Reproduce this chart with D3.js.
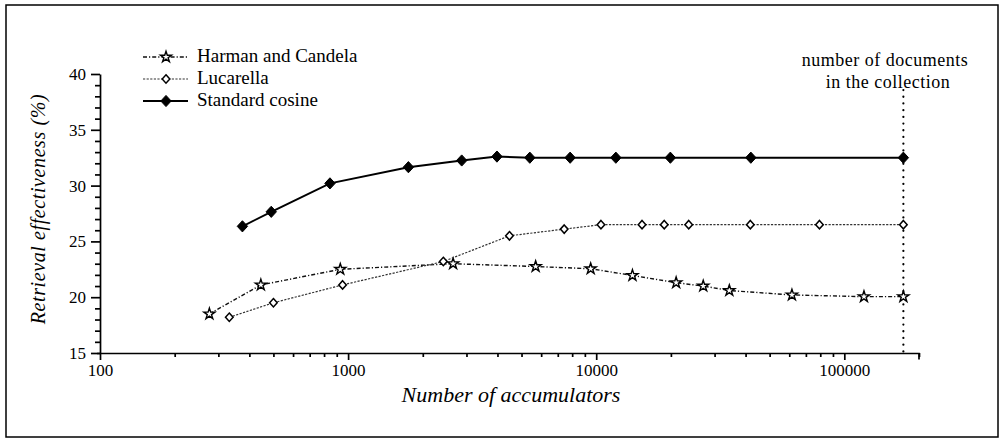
<!DOCTYPE html>
<html><head><meta charset="utf-8">
<script src="https://cdn.jsdelivr.net/npm/d3@7"></script>
<style>
html,body{margin:0;padding:0;background:#fff;}
svg{display:block;}
text{font-family:"Liberation Serif","DejaVu Serif",serif;fill:#000;}
</style></head>
<body>
<svg id="chart" width="1000" height="443"></svg>
<script>
// ---- data ----
const harmanX = [276, 445, 930, 2650, 5700, 9500, 14000, 21000, 27000, 34400, 61500, 120000, 173000];
const harmanY = [18.5, 21.1, 22.5, 23.0, 22.75, 22.55, 21.95, 21.3, 21.0, 20.6, 20.2, 20.05, 20.05];
const lucarellaX = [332, 500, 950, 2420, 4470, 7430, 10450, 15300, 18800, 23600, 41800, 79400, 173000];
const lucarellaY = [18.2, 19.5, 21.1, 23.2, 25.5, 26.1, 26.5, 26.5, 26.5, 26.5, 26.5, 26.5, 26.5];
const cosineX = [375, 490, 845, 1750, 2870, 3980, 5400, 7850, 12000, 19900, 42000, 173000];
const cosineY = [26.35, 27.65, 30.2, 31.65, 32.25, 32.6, 32.5, 32.5, 32.5, 32.5, 32.5, 32.5];
const seriesNames = ["Harman and Candela", "Lucarella", "Standard cosine"];
const xMajorTicks = [100, 1000, 10000, 100000];
const yMajorTicks = [15, 20, 25, 30, 35, 40];
const collectionSize = 173000;
const annotationLines = ["number of documents", "in the collection"];
const xTitle = "Number of accumulators";
const yTitle = "Retrieval effectiveness (%)";

// ---- layout ----
const svg = d3.select("#chart");
const x = d3.scaleLog().domain([100, 200000]).range([100, 919]);
const y = d3.scaleLinear().domain([15, 40]).range([353, 74]);

// frame
svg.append("rect").attr("x", 6).attr("y", 5).attr("width", 992).attr("height", 432)
  .attr("fill", "none").attr("stroke", "#000").attr("stroke-width", 1.5);

// minor ticks
const xMinor = [];
for (let d = 100; d <= 100000; d *= 10) for (let k = 2; k <= 9; k++) if (d * k <= 200000) xMinor.push(d * k);
const yMinor = d3.range(15, 41, 1).filter(v => v % 5 !== 0);

const gx = svg.append("g").attr("transform", "translate(0,353)");
gx.call(d3.axisBottom(x).tickValues(xMinor).tickSize(4).tickFormat(""));
gx.call(g => g.select(".domain").remove());
const gx2 = svg.append("g").attr("transform", "translate(0,353)");
gx2.call(d3.axisBottom(x).tickValues(xMajorTicks).tickSize(7).tickSizeOuter(0).tickPadding(4).tickFormat(d3.format("d")));
gx2.select(".domain").attr("d", "M97,0.5H919v6");
[gx, gx2].forEach(g => { g.selectAll("line,path").attr("stroke", "#000").attr("stroke-width", 1.7); });
gx2.selectAll("text").attr("font-size", 17).attr("font-family", "Liberation Serif");

const gy = svg.append("g").attr("transform", "translate(100,0)");
gy.call(d3.axisLeft(y).tickValues(yMinor).tickSize(5).tickFormat(""));
gy.call(g => g.select(".domain").remove());
const gy2 = svg.append("g").attr("transform", "translate(100,0)");
gy2.call(d3.axisLeft(y).tickValues(yMajorTicks).tickSize(9).tickSizeOuter(0).tickPadding(5));
[gy, gy2].forEach(g => { g.selectAll("line,path").attr("stroke", "#000").attr("stroke-width", 1.7); });
gy2.selectAll("text").attr("font-size", 17).attr("font-family", "Liberation Serif");

// titles
svg.append("text").attr("x", 511).attr("y", 402).attr("text-anchor", "middle")
  .attr("font-size", 22).attr("font-style", "italic").text(xTitle);
svg.append("text").attr("transform", "translate(45,209) rotate(-90)").attr("text-anchor", "middle")
  .attr("font-size", 20).attr("letter-spacing", 0.6).attr("font-style", "italic").text(yTitle);

// collection line
svg.append("line").attr("x1", x(collectionSize)).attr("x2", x(collectionSize))
  .attr("y1", 90).attr("y2", 353).attr("stroke", "#000").attr("stroke-width", 2.2)
  .attr("stroke-dasharray", "0.1,6.6").attr("stroke-linecap", "round");
svg.append("text").attr("x", 885).attr("y", 66).attr("text-anchor", "middle")
  .attr("font-size", 18).attr("letter-spacing", 0.5).text(annotationLines[0]);
svg.append("text").attr("x", 888).attr("y", 88).attr("text-anchor", "middle")
  .attr("font-size", 18).attr("letter-spacing", 0.5).text(annotationLines[1]);

// markers
function diamond(w, h) {
  return { draw(ctx) { ctx.moveTo(0, -h); ctx.lineTo(w, 0); ctx.lineTo(0, h); ctx.lineTo(-w, 0); ctx.closePath(); } };
}
const styles = [
  { xs: harmanX, ys: harmanY, dash: "4,2,1.2,2", width: 1.4, color: "#111",
    sym: d3.symbol().type(d3.symbolStar).size(38), fill: "#fff", mStroke: 1.4 },
  { xs: lucarellaX, ys: lucarellaY, dash: "2.2,1.4", width: 1.2, color: "#333",
    sym: d3.symbol().type(diamond(3.8, 4.2)), fill: "#fff", mStroke: 1.5 },
  { xs: cosineX, ys: cosineY, dash: null, width: 2, color: "#000",
    sym: d3.symbol().type(diamond(5.2, 5.6)), fill: "#000", mStroke: 1 }
];
const line = d3.line().x(d => x(d[0])).y(d => y(d[1]));
styles.forEach(s => {
  const pts = s.xs.map((v, i) => [v, s.ys[i]]);
  svg.append("path").datum(pts).attr("d", line).attr("fill", "none")
    .attr("stroke", s.color).attr("stroke-width", s.width).attr("stroke-dasharray", s.dash);
  svg.append("g").selectAll("path").data(pts).join("path")
    .attr("transform", d => `translate(${x(d[0])},${y(d[1])})`)
    .attr("d", s.sym).attr("fill", s.fill).attr("stroke", "#000").attr("stroke-width", s.mStroke);
});

// legend
const legY = [57, 79, 101];
styles.forEach((s, i) => {
  const g = svg.append("g").attr("transform", `translate(0,${legY[i]})`);
  g.append("line").attr("x1", 143).attr("x2", 188).attr("y1", 0).attr("y2", 0)
    .attr("stroke", s.color).attr("stroke-width", s.width).attr("stroke-dasharray", s.dash);
  g.append("path").attr("transform", "translate(166,0)").attr("d", s.sym)
    .attr("fill", s.fill).attr("stroke", "#000").attr("stroke-width", s.mStroke);
  g.append("text").attr("x", 197).attr("y", 5).attr("font-size", 19).text(seriesNames[i]);
});
</script>
</body></html>
